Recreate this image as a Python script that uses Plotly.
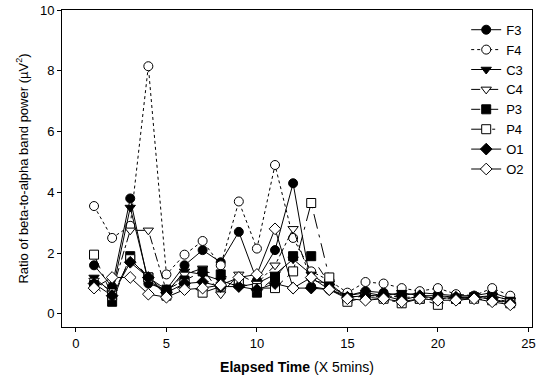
import plotly.graph_objects as go

x = list(range(1, 25))
names = ["F3", "F4", "C3", "C4", "P3", "P4", "O1", "O2"]
F3 = [1.6, 0.9, 3.8, 1.0, 0.8, 1.6, 2.1, 1.7, 2.7, 1.1, 2.1, 4.3, 0.9, 0.8, 0.6, 0.75, 0.7, 0.6, 0.7, 0.65, 0.6, 0.6, 0.7, 0.5]
F4 = [3.55, 2.5, 2.9, 8.15, 1.3, 1.95, 2.4, 1.6, 3.7, 2.15, 4.9, 2.5, 1.4, 1.1, 0.7, 1.05, 1.0, 0.85, 0.75, 0.85, 0.65, 0.6, 0.85, 0.6]
C3 = [1.2, 0.7, 3.5, 1.1, 0.7, 1.4, 1.3, 1.1, 0.9, 1.0, 1.3, 1.8, 1.3, 0.9, 0.6, 0.7, 0.6, 0.7, 0.6, 0.6, 0.55, 0.55, 0.6, 0.45]
C4 = [1.1, 0.75, 2.75, 2.75, 0.75, 1.3, 1.5, 0.65, 1.3, 1.0, 1.6, 2.8, 1.1, 1.0, 0.55, 0.6, 0.6, 0.55, 0.55, 0.5, 0.55, 0.5, 0.6, 0.45]
P3 = [0.95, 0.4, 1.9, 1.2, 0.8, 1.1, 1.4, 1.3, 1.05, 0.7, 1.2, 1.9, 1.9, 1.0, 0.5, 0.6, 0.55, 0.6, 0.5, 0.5, 0.5, 0.55, 0.5, 0.4]
P4 = [1.95, 0.6, 1.8, 1.2, 0.6, 1.0, 0.7, 0.9, 1.0, 0.85, 0.85, 1.4, 3.65, 1.2, 0.4, 0.55, 0.5, 0.35, 0.5, 0.3, 0.5, 0.5, 0.45, 0.35]
O1 = [1.0, 0.6, 1.7, 1.2, 0.7, 1.0, 1.05, 0.9, 0.9, 0.8, 1.0, 0.85, 0.85, 0.8, 0.55, 0.6, 0.6, 0.45, 0.6, 0.5, 0.55, 0.55, 0.5, 0.35]
O2 = [0.85, 1.2, 1.2, 0.65, 0.55, 0.8, 0.85, 0.95, 1.2, 1.3, 2.8, 0.85, 1.2, 0.8, 0.5, 0.45, 0.5, 0.4, 0.5, 0.45, 0.45, 0.5, 0.4, 0.3]
series = [F3, F4, C3, C4, P3, P4, O1, O2]

symbols = ["circle", "circle", "triangle-down", "triangle-down",
           "square", "square", "diamond", "diamond"]
fills = ["black", "white", "black", "white", "black", "white", "black", "white"]
dashes = ["solid", "dot", "solid", "dashdot", "dash", "longdashdot", "solid", "solid"]

fig = go.Figure()
for n, y, s, f, d in zip(names, series, symbols, fills, dashes):
    fig.add_trace(go.Scatter(
        x=x, y=y, name=n, mode="lines+markers",
        line=dict(color="black", width=1, dash=d),
        marker=dict(symbol=s, size=9, color=f, line=dict(color="black", width=1)),
    ))

fig.update_layout(
    width=545, height=383,
    margin=dict(l=62, r=13, t=10, b=56),
    paper_bgcolor="white", plot_bgcolor="white",
    font=dict(family="Liberation Sans, Arial, sans-serif", color="black", size=12),
    showlegend=True,
    legend=dict(x=0.86, y=0.985, xanchor="left", yanchor="top",
                bgcolor="rgba(0,0,0,0)", font=dict(size=13), tracegroupgap=0),
    xaxis=dict(range=[-0.77, 25.2], tickvals=[0, 5, 10, 15, 20, 25], automargin=False,
               showline=True, linecolor="black", linewidth=1, mirror=True,
               ticks="outside", ticklen=4, tickcolor="black", showgrid=False, zeroline=False,
               tickfont=dict(size=13),
               title=dict(text="<b>Elapsed Time</b> (X 5mins)", font=dict(size=14), standoff=12)),
    yaxis=dict(range=[-0.43, 10.0], tickvals=[0, 2, 4, 6, 8, 10], automargin=False,
               showline=True, linecolor="black", linewidth=1, mirror=True,
               ticks="outside", ticklen=4, tickcolor="black", showgrid=False, zeroline=False,
               tickfont=dict(size=13),
               title=dict(text="Ratio of beta-to-alpha band power (µV<sup>2</sup>)", font=dict(size=13), standoff=8)),
)

fig.write_html("out.html", config={"displayModeBar": False},
               post_script="document.body.style.margin='0';")
